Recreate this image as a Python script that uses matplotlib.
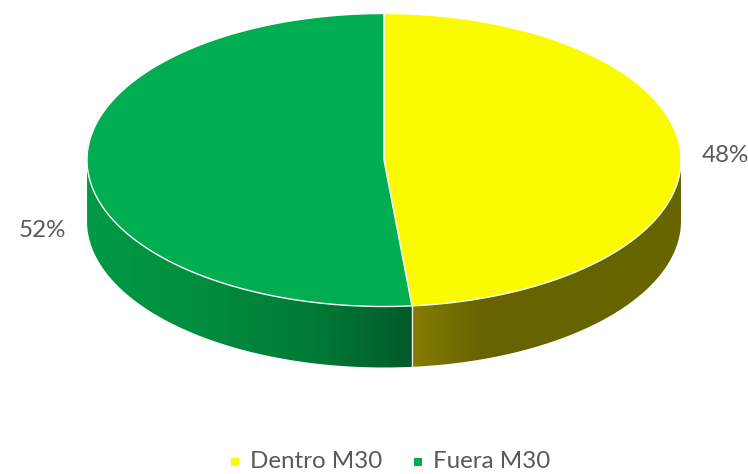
import matplotlib
matplotlib.use("Agg")
import matplotlib.pyplot as plt
import numpy as np
from matplotlib.colors import LinearSegmentedColormap
from matplotlib.patches import PathPatch
from matplotlib.path import Path

categories = ["Dentro M30", "Fuera M30"]
values = [48.5, 51.5]
pct_labels = ["48%", "52%"]
top_colors = ["#FBFB00", "#00AD50"]

CX, CY = 384, 160
RX, RY = 297, 146.5
DEPTH = 61

# both run left to right across the wall
side_cmaps = [
    LinearSegmentedColormap.from_list("y", [(0, "#857D00"), (0.26, "#676300"), (1, "#666600")]),
    LinearSegmentedColormap.from_list("g", [(0, "#009A45"), (0.3, "#008F40"), (0.7, "#007A36"), (1, "#005A2A")]),
]
label_pos = [(725, 156), (42, 230)]
legend_x = [235, 418]


def rim(a0, a1, dy=0, n=200):
    # angles clockwise from 12 o'clock, in radians
    t = np.linspace(a0, a1, n)
    return np.column_stack([CX + RX * np.sin(t), CY + dy - RY * np.cos(t)])


plt.rcParams["font.family"] = ["Lato", "DejaVu Sans"]
fig = plt.figure(figsize=(7.48, 4.74), dpi=100)
ax = fig.add_axes([0, 0, 1, 1])
ax.set_xlim(0, 748)
ax.set_ylim(474, 0)
ax.axis("off")

cuts = np.cumsum([0] + values) / sum(values) * 2 * np.pi

# side walls, only the part of each slice facing the viewer
for i in range(2):
    a0 = max(cuts[i], np.pi / 2)
    a1 = min(cuts[i + 1], 3 * np.pi / 2)
    top = rim(a0, a1)
    bottom = rim(a0, a1, DEPTH)[::-1]
    verts = np.vstack([top, bottom, top[:1]])
    patch = PathPatch(Path(verts), facecolor="none", edgecolor="none")
    ax.add_patch(patch)
    xs = verts[:, 0]
    img = ax.imshow(
        np.linspace(0, 1, 256).reshape(1, -1),
        cmap=side_cmaps[i],
        vmin=0,
        vmax=1,
        extent=(xs.min(), xs.max(), CY + RY + DEPTH + 1, CY),
        aspect="auto",
        zorder=1,
    )
    img.set_clip_path(patch)

# seam between the two walls
seam = rim(cuts[1], cuts[1], 0, 2)[0]
ax.plot([seam[0], seam[0]], [seam[1], seam[1] + DEPTH], color="#E8E8E8", lw=1, zorder=2)

# top face
for i in range(2):
    arc = rim(cuts[i], cuts[i + 1])
    verts = np.vstack([[CX, CY], arc, [CX, CY]])
    ax.add_patch(
        PathPatch(Path(verts), facecolor=top_colors[i], edgecolor="white", lw=1, joinstyle="round", zorder=3)
    )

ax.set_xlim(0, 748)
ax.set_ylim(474, 0)

for (x, y), text in zip(label_pos, pct_labels):
    ax.text(x, y, text, ha="center", va="center", fontsize=17.4, color="#595959", zorder=4)

for x, name, color in zip(legend_x, categories, top_colors):
    ax.scatter([x], [462], marker="s", s=33, color=color, linewidths=0, zorder=4)
    ax.text(x + 15, 462, name, ha="left", va="center", fontsize=17.4, color="#595959", zorder=4)

fig.savefig("out.png", dpi=100)
plt.close(fig)
